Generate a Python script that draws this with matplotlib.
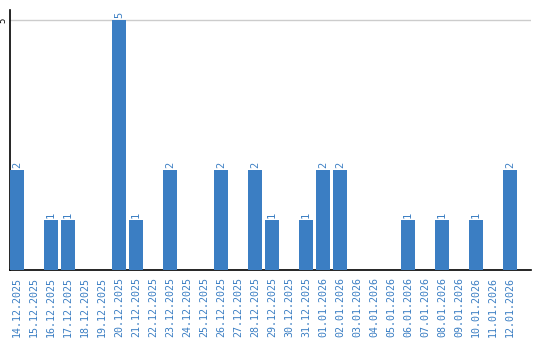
import matplotlib
matplotlib.use("Agg")
import matplotlib.pyplot as plt

dates = ["14.12.2025", "15.12.2025", "16.12.2025", "17.12.2025", "18.12.2025",
         "19.12.2025", "20.12.2025", "21.12.2025", "22.12.2025", "23.12.2025",
         "24.12.2025", "25.12.2025", "26.12.2025", "27.12.2025", "28.12.2025",
         "29.12.2025", "30.12.2025", "31.12.2025", "01.01.2026", "02.01.2026",
         "03.01.2026", "04.01.2026", "05.01.2026", "06.01.2026", "07.01.2026",
         "08.01.2026", "09.01.2026", "10.01.2026", "11.01.2026", "12.01.2026"]
counts = [2, 0, 1, 1, 0, 0, 5, 1, 0, 2, 0, 0, 2, 0, 2, 1, 0, 1, 2, 2,
          0, 0, 0, 1, 0, 1, 0, 1, 0, 2]

bar_color = "#3b7ec3"
label_color = "#3b7ec3"

fig = plt.figure(figsize=(5.4, 3.4), dpi=100)
ax = fig.add_axes([10/540, 1-270/340, 521/540, 260/340])

w = 14/17
xs = list(range(len(dates)))
ax.bar(xs, counts, width=w, align="edge", color=bar_color, zorder=3)

for x, c in zip(xs, counts):
    if c > 0:
        ax.text(x + w/2, c + 0.04, str(c), rotation=90, ha="center", va="bottom",
                color=label_color, fontsize=7.5, family="DejaVu Sans Mono")

ax.set_xlim(0, 521/17)
ax.set_ylim(0, 5.2)
ax.set_yticks([5])
ax.set_yticklabels(["5"], rotation=90, va="center", ha="center", fontsize=6.5,
                   family="DejaVu Sans Mono")
ax.tick_params(axis="y", length=0, pad=5)
ax.axhline(5, color="#cccccc", lw=1, zorder=1)

ax.set_xticks([x + w/2 for x in xs])
ax.set_xticklabels(dates, rotation=90, fontsize=7.2, family="DejaVu Sans Mono", color=label_color)
ax.tick_params(axis="x", length=0, pad=5)

for s in ["top", "right"]:
    ax.spines[s].set_visible(False)
ax.spines["left"].set_color("black")
ax.spines["bottom"].set_color("black")
ax.spines["left"].set_linewidth(1.2)
ax.spines["bottom"].set_linewidth(1.2)

fig.savefig("out.png", dpi=100)
